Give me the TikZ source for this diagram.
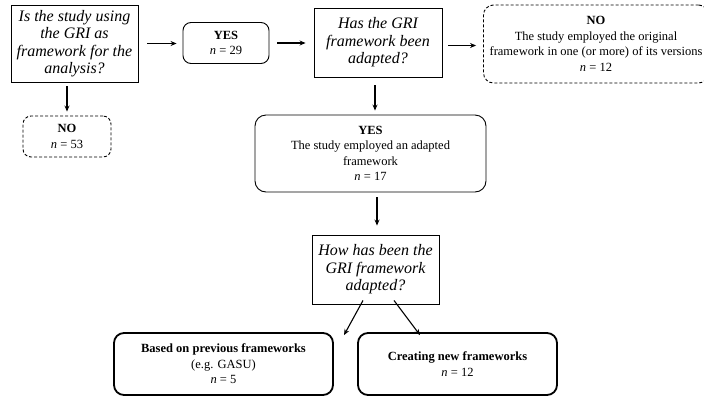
\documentclass[tikz,border=0pt]{standalone}
\usepackage{fontspec}
\setmainfont{Liberation Serif}
\usetikzlibrary{arrows.meta}
\tikzset{
  qbox/.style={draw, line width=0.9pt, inner sep=0pt, align=center,
    font=\fontsize{16}{17.5}\selectfont\itshape},
  rbox/.style={draw, line width=0.9pt, rounded corners=8pt, inner sep=0pt, align=center,
    font=\fontsize{12.5}{15.5}\selectfont},
  dbox/.style={rbox, dashed, dash pattern=on 3pt off 2pt},
  tbox/.style={rbox, line width=1.8pt},
  arr/.style={-{Stealth[length=6pt,width=5pt]}, line width=1.1pt}
}
\begin{document}
\begin{tikzpicture}[x=1pt,y=-1pt]
\clip (0,0) rectangle (704,397);
\fill[white] (0,0) rectangle (704,397);
\node[qbox, minimum width=127pt, minimum height=77pt] (q1) at (74.5,43.5)
  {Is the study using\\the GRI as\\framework for the\\analysis?};
\node[rbox, minimum width=86pt, minimum height=41pt] (yes1) at (226,43)
  {\textbf{YES}\\\textit{n} = 29};
\node[qbox, minimum width=128pt, minimum height=69pt] (q2) at (378,42.5)
  {Has the GRI\\framework been\\adapted?};
\node[dbox, rounded corners=10pt, minimum width=225pt, minimum height=78pt] (no2) at (596,44)
  {\textbf{NO}\\The study employed the original\\framework in one (or more) of its versions\\\textit{n} = 12};
\node[dbox, minimum width=88pt, minimum height=41pt] (no1) at (67,136.5)
  {\textbf{NO}\\\textit{n} = 53};
\node[rbox, rounded corners=11pt, minimum width=231pt, minimum height=77pt] (yes2) at (370.5,153.5)
  {\textbf{YES}\\The study employed an adapted\\framework\\\textit{n} = 17};
\node[qbox, minimum width=127pt, minimum height=69pt] (q3) at (375.5,269.5)
  {How has been the\\GRI framework\\adapted?};
\node[tbox, rounded corners=10pt, minimum width=219pt, minimum height=62pt] (b1) at (223.5,364)
  {\textbf{Based on previous frameworks}\\(e.g. GASU)\\\textit{n} = 5};
\node[tbox, rounded corners=10pt, minimum width=199pt, minimum height=62pt] (b2) at (457.5,364)
  {\textbf{Creating new frameworks}\\\textit{n} = 12};

\draw[arr, shorten <=9pt, shorten >=6pt] (q1.east) -- (q1.east -| yes1.west);
\draw[arr, shorten <=8pt, shorten >=8pt] (yes1.east) -- (yes1.east -| q2.west);
\draw[arr, shorten <=6pt, shorten >=7pt] ([yshift=-3pt]q2.east) -- ([yshift=-3pt]q2.east -| no2.west);
\draw[arr, shorten <=4pt, shorten >=4pt] ([xshift=-7.5pt]q1.south) -- ([xshift=-7.5pt]q1.south |- no1.north);
\draw[arr, shorten <=8pt, shorten >=4pt] ([xshift=-3pt]q2.south) -- ([xshift=-3pt]q2.south |- yes2.north);
\draw[arr, shorten <=5pt, shorten >=9pt] ([xshift=6.5pt]yes2.south) -- ([xshift=6.5pt]yes2.south |- q3.north);
\draw[arr] ([xshift=-12.5pt,yshift=4pt]q3.south) -- ([xshift=120.5pt,yshift=-3pt]b1.north);
\draw[arr] ([xshift=18.5pt,yshift=4pt]q3.south) -- ([xshift=-37.5pt,yshift=-3pt]b2.north);
\end{tikzpicture}
\end{document}
